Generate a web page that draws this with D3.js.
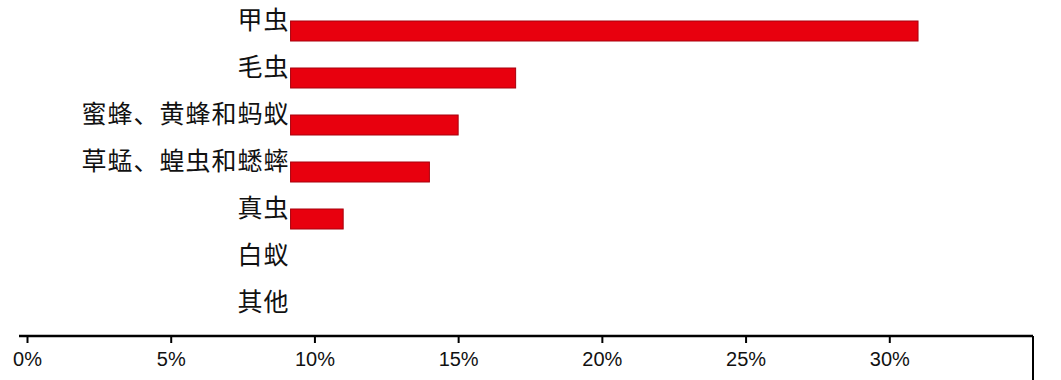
<!DOCTYPE html>
<html><head><meta charset="utf-8">
<script src="https://cdn.jsdelivr.net/npm/d3@7"></script>
<style>body{margin:0;background:#fff}svg{display:block}</style>
</head><body>
<svg id="c" width="1061" height="380"></svg>
<script>
const categories = ["甲虫","毛虫","蜜蜂、黄蜂和蚂蚁","草蜢、蝗虫和蟋蟀","真虫","白蚁","其他"];
const values = [31, 17, 15, 14, 11, null, null];
const tickValues = [0,5,10,15,20,25,30];
const tickLabels = ["0%","5%","10%","15%","20%","25%","30%"];
const barStart = 9.17;   // bars in the original start at the category axis, not at 0%
const xMax = 35;

const svg = d3.select("#c");
const x = d3.scaleLinear().domain([0, xMax]).range([27, 1033]);
const y = d3.scaleBand().domain(categories).range([7.5, 336.5]).padding(0);

// bars
svg.append("g").selectAll("rect")
  .data(categories.map((c,i)=>({c, v: values[i]})).filter(d=>d.v!=null))
  .join("rect")
  .attr("x", x(barStart))
  .attr("y", d => y(d.c) + y.bandwidth()/2 - 10)
  .attr("width", d => x(d.v) - x(barStart))
  .attr("height", 20)
  .attr("fill", "#e8000e")
  .attr("stroke", "#a8000c")
  .attr("stroke-width", 1);

// category labels
svg.append("g").selectAll("text")
  .data(categories).join("text")
  .attr("x", x(barStart) - 1)
  .attr("y", d => y(d) + y.bandwidth()/2 - 11)
  .attr("dy", "0.35em")
  .attr("text-anchor", "end")
  .attr("font-family", "'Noto Sans CJK SC', sans-serif")
  .attr("font-size", 25)
  .attr("letter-spacing", 1)
  .attr("fill", "#111")
  .text(d => d);

// x axis
const axisY = 336;
const xAxis = d3.axisBottom(x).tickValues(tickValues)
  .tickFormat((d,i)=>tickLabels[i]).tickSize(7).tickPadding(9);
const gx = svg.append("g").attr("transform", `translate(0,${axisY})`).call(xAxis);
gx.select(".domain").remove();
gx.selectAll(".tick line").attr("stroke", "#000").attr("stroke-width", 2);
gx.selectAll(".tick text").attr("font-family", "'Liberation Sans', Arial, sans-serif")
  .attr("font-size", 20).attr("fill", "#111");
svg.append("line").attr("x1", 19).attr("x2", x(xMax)).attr("y1", axisY).attr("y2", axisY)
  .attr("stroke", "#000").attr("stroke-width", 2.5);
svg.append("line").attr("x1", x(xMax)).attr("x2", x(xMax)).attr("y1", axisY).attr("y2", 380)
  .attr("stroke", "#000").attr("stroke-width", 2);
</script>
</body></html>
